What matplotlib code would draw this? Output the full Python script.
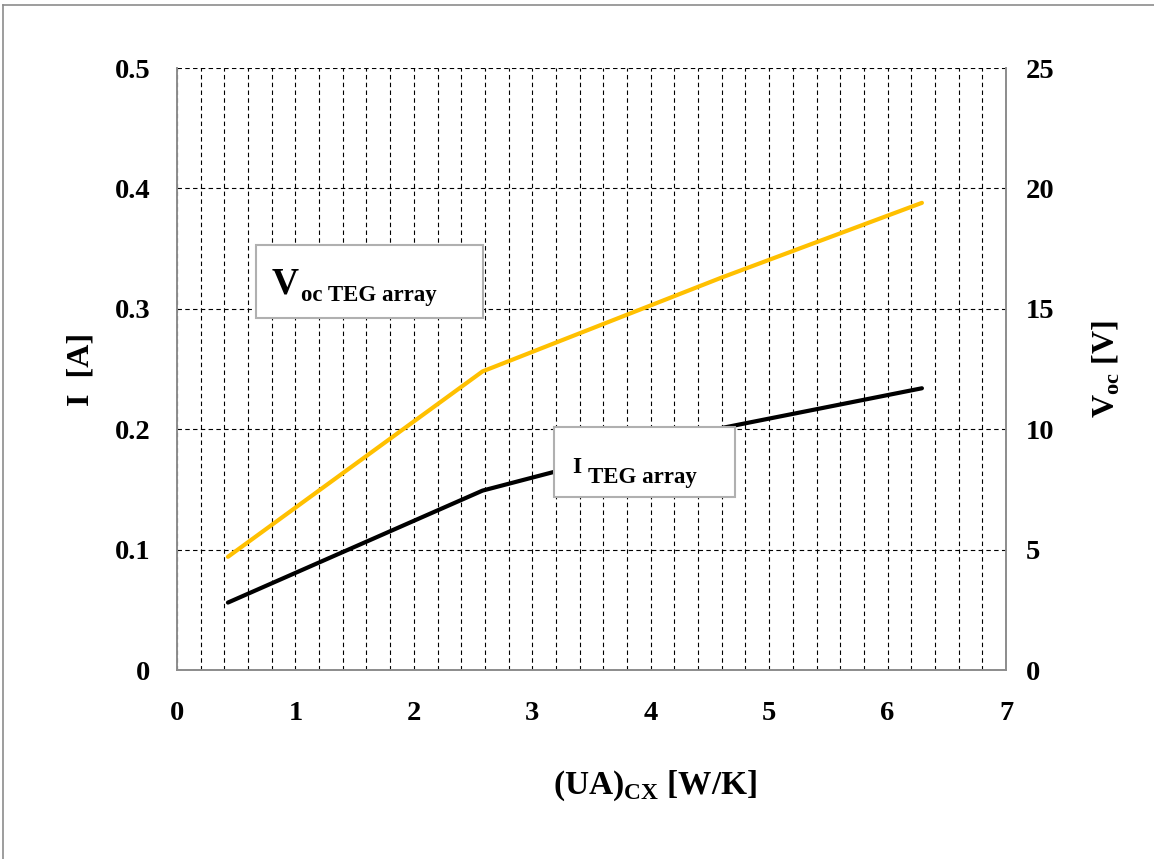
import numpy as np
import matplotlib.pyplot as plt
from matplotlib.patches import Rectangle
from matplotlib.lines import Line2D
from matplotlib.ticker import MultipleLocator

plt.rcParams['font.family'] = ['Liberation Serif', 'DejaVu Serif']
plt.rcParams['font.weight'] = 'bold'
plt.rcParams['axes.labelweight'] = 'bold'
plt.rcParams['mathtext.fontset'] = 'custom'
plt.rcParams['mathtext.bf'] = 'Liberation Serif:bold'
plt.rcParams['mathtext.rm'] = 'Liberation Serif:bold'

# data
ua = [0.43, 2.58, 4.6, 6.29]
current = [0.056, 0.149, 0.201, 0.234]
voc = [4.7, 12.4, 16.3, 19.4]

x_ticks = [0, 1, 2, 3, 4, 5, 6, 7]
i_ticks = [0, 0.1, 0.2, 0.3, 0.4, 0.5]
v_ticks = [0, 5, 10, 15, 20, 25]

W, H = 1154, 859
fig = plt.figure(figsize=(W / 100, H / 100), dpi=100)
ax = fig.add_axes([177 / W, 1 - 670 / H, (1006 - 177) / W, (670 - 68) / H])
ax2 = ax.twinx()

gray = '#8c8c8c'
grid_kw = dict(color='black', linestyle=(0, (4, 3)), linewidth=0.8)

ax.set_xlim(0, 7)
ax.set_ylim(0, 0.5)
ax.set_xticks(x_ticks)
ax.set_xticklabels([str(t) for t in x_ticks])
ax.xaxis.set_minor_locator(MultipleLocator(0.2))
ax.set_yticks(i_ticks)
ax.set_yticklabels(['0'] + [f'{t:.1f}' for t in i_ticks[1:]])
ax.grid(True, axis='x', which='both', **grid_kw)
ax.grid(True, axis='y', which='major', **grid_kw)
ax.set_axisbelow(True)
ax.tick_params(axis='both', which='both', length=0, labelsize=20.5)
ax.tick_params(axis='y', pad=19)
ax.tick_params(axis='x', pad=22)

ax2.set_ylim(0, 25)
ax2.set_yticks(v_ticks)
ax2.tick_params(axis='y', length=0, labelsize=20.5, pad=14)

for a in (ax, ax2):
    for s in ('left', 'right', 'bottom'):
        a.spines[s].set_color(gray)
        a.spines[s].set_linewidth(1.2)
    a.spines['top'].set_visible(False)

ax.plot(ua, current, color='black', linewidth=3, zorder=3, solid_capstyle='round')
ax2.plot(ua, voc, color='#FFC000', linewidth=3, zorder=3, solid_capstyle='round')

ax.set_xlabel(r'(UA)$_{\mathregular{CX}}$ [W/K]', fontsize=24)
ax.xaxis.set_label_coords(0.577, -0.163)
ax.set_ylabel('I  [A]', fontsize=23, labelpad=14)
ax2.set_ylabel(r'V$_{\mathregular{oc}}$ [V]', fontsize=23, labelpad=26)

# label boxes
ax2.add_patch(Rectangle((0.667, 0.292 * 50), 2.58 - 0.667, (0.353 - 0.292) * 50,
                        facecolor='white', edgecolor='#b0b0b0', linewidth=1.5, zorder=5))
ax2.text(0.8, 0.313 * 50, 'V', fontsize=27, zorder=6, ha='left', va='baseline')
ax2.text(1.05, 0.3065 * 50, 'oc TEG array', fontsize=16.5, zorder=6, ha='left', va='baseline')

ax2.add_patch(Rectangle((3.18, 0.1437 * 50), 4.71 - 3.18, (0.2018 - 0.1437) * 50,
                        facecolor='white', edgecolor='#b0b0b0', linewidth=1.5, zorder=5))
ax2.text(3.336, 0.1636 * 50, 'I', fontsize=17, zorder=6, ha='left', va='baseline')
ax2.text(3.47, 0.155 * 50, 'TEG array', fontsize=16.5, zorder=6, ha='left', va='baseline')

# outer frame lines (top and left)
fig.add_artist(Line2D([3 / W, 1], [1 - 5 / H, 1 - 5 / H], color=gray, linewidth=1.2))
fig.add_artist(Line2D([3 / W, 3 / W], [0, 1 - 5 / H], color=gray, linewidth=1.2))

fig.savefig('out.png', dpi=100)
